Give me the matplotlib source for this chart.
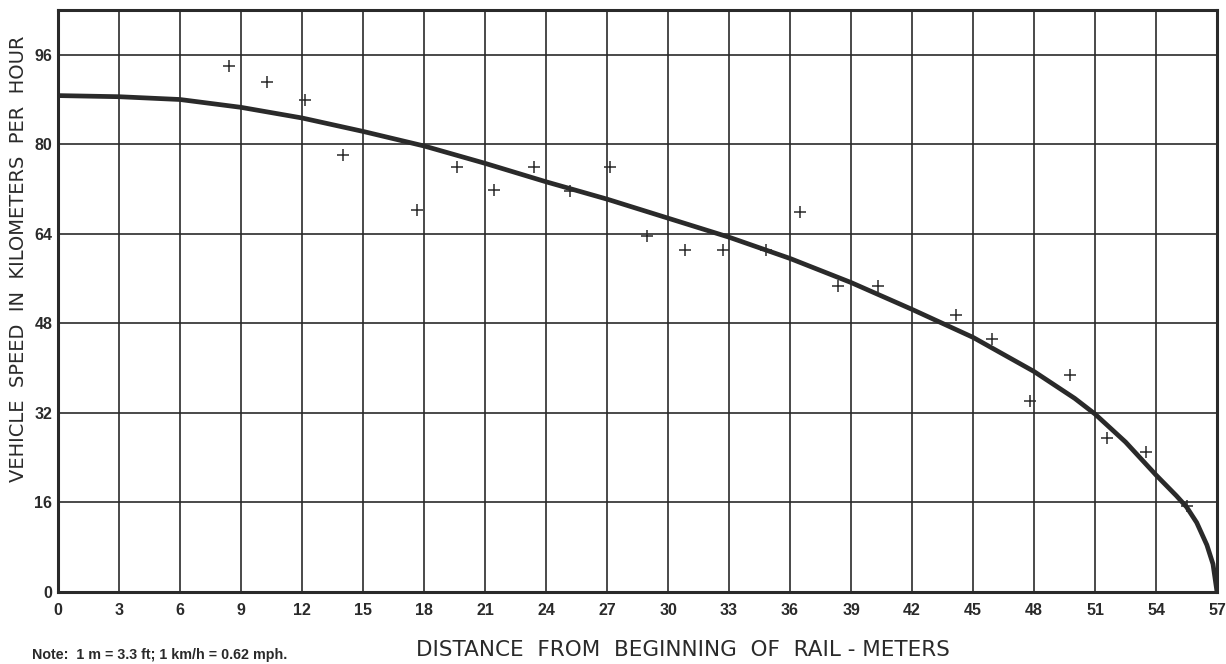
import matplotlib.pyplot as plt

# Messpunkte (Kreuze)
x_pts = [8.4, 10.3, 12.15, 14.0, 17.65, 19.6, 21.45, 23.4, 25.2, 27.15, 28.95,
         30.85, 32.7, 34.8, 36.5, 38.35, 40.35, 44.15, 45.95, 47.8, 49.75,
         51.6, 53.5, 55.5]
y_pts = [94.0, 91.2, 88.0, 78.1, 68.2, 76.0, 71.8, 76.0, 71.6, 76.0, 63.6,
         61.1, 61.1, 61.1, 67.9, 54.7, 54.7, 49.5, 45.2, 34.1, 38.8,
         27.6, 25.0, 15.3]

# Ausgleichskurve
x_curve = [0, 3, 6, 9, 12, 15, 18, 21, 24, 27, 30, 33, 36, 39, 42, 45, 48,
           50, 51, 52.5, 54, 55, 55.5, 56, 56.5, 56.8, 57]
y_curve = [88.7, 88.5, 88.0, 86.6, 84.7, 82.3, 79.7, 76.6, 73.3, 70.2, 66.8,
           63.4, 59.6, 55.3, 50.5, 45.5, 39.4, 34.6, 31.8, 26.8, 20.9, 17.2,
           15.2, 12.4, 8.4, 5.0, 0]

x_ticks = list(range(0, 58, 3))
y_ticks = [0, 16, 32, 48, 64, 80, 96]

ink = '#2a2a2a'

fig = plt.figure(figsize=(12.26, 6.64), dpi=100)
ax = fig.add_axes([0.0473, 0.1084, 0.9454, 0.8766])

ax.plot(x_curve, y_curve, color=ink, linewidth=3.4, solid_capstyle='round',
        solid_joinstyle='round', zorder=3)
ax.plot(x_pts, y_pts, linestyle='none', marker='+', markersize=9,
        markeredgewidth=1.1, color=ink, zorder=4)

ax.set_xlim(0, 57)
ax.set_ylim(0, 104)
ax.set_xticks(x_ticks)
ax.set_yticks(y_ticks)
ax.tick_params(length=0)
ax.tick_params(axis='x', pad=8)
ax.tick_params(axis='y', pad=4)
for lbl in ax.get_xticklabels() + ax.get_yticklabels():
    lbl.set_fontfamily('Liberation Sans')
    lbl.set_fontweight('bold')
    lbl.set_fontsize(11.5)
    lbl.set_color(ink)

ax.grid(True, color=ink, linewidth=1.2)
ax.set_axisbelow(True)
for s in ax.spines.values():
    s.set_linewidth(2.2)
    s.set_color(ink)

fig.text(0.0147, 0.61, 'VEHICLE  SPEED  IN  KILOMETERS  PER  HOUR', rotation=90,
         ha='center', va='center', fontsize=14, color=ink, family='DejaVu Sans')
fig.text(0.557, 0.021, 'DISTANCE  FROM  BEGINNING  OF  RAIL - METERS',
         ha='center', va='center', fontsize=15.5, color=ink, family='DejaVu Sans')
fig.text(0.026, 0.013, 'Note:  1 m = 3.3 ft; 1 km/h = 0.62 mph.',
         ha='left', va='center', fontsize=10.3, fontweight='bold', color=ink,
         family='Liberation Sans')

fig.savefig('out.png', dpi=100)
